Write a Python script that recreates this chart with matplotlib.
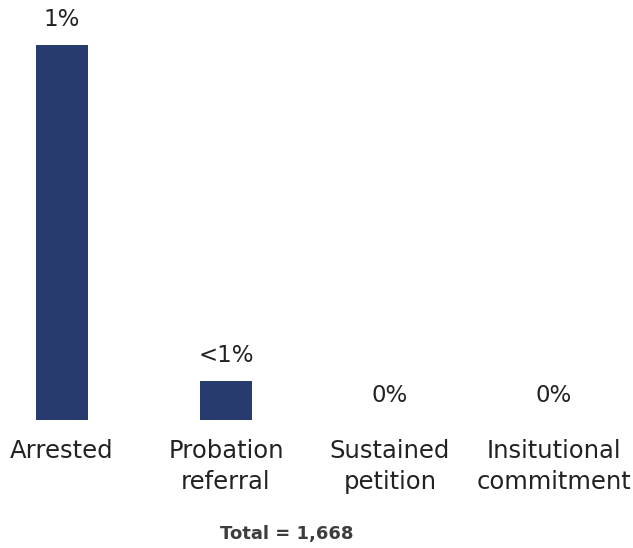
import matplotlib
matplotlib.use("Agg")
import matplotlib.pyplot as plt

categories = ["Arrested", "Probation\nreferral", "Sustained\npetition", "Insitutional\ncommitment"]
values = [0.96, 0.10, 0.0, 0.0]          # percent of total
value_labels = ["1%", "<1%", "0%", "0%"]
total_label = "Total = 1,668"

BAR_COLOR = "#283b6e"
TEXT_COLOR = "#222222"

plt.rcParams["font.family"] = ["DejaVu Sans"]

fig = plt.figure(figsize=(6.33, 5.48), dpi=100)
ax = fig.add_axes([0.0, 128 / 548, 1.0, 375 / 548])

x = list(range(len(categories)))
ax.bar(x, values, width=0.323, color=BAR_COLOR)

for xi, v, lab in zip(x, values, value_labels):
    ax.annotate(lab, (xi, v), xytext=(0, 18), textcoords="offset points",
                ha="center", va="center", fontsize=16.5, color=TEXT_COLOR)

ax.set_xlim(-62 / 164, (633 - 62) / 164)
ax.set_ylim(0, values[0])
ax.set_xticks(x)
ax.set_xticklabels(categories, fontsize=17.5, color=TEXT_COLOR, linespacing=1.38)
ax.tick_params(axis="x", length=0, pad=13.5)
ax.set_yticks([])
for s in ax.spines.values():
    s.set_visible(False)

fig.text(287 / 633, 1 - 534 / 548, total_label, ha="center", va="center",
         fontsize=13, fontweight="bold", color="#3d3d3d")

fig.savefig("out.png", dpi=100)
